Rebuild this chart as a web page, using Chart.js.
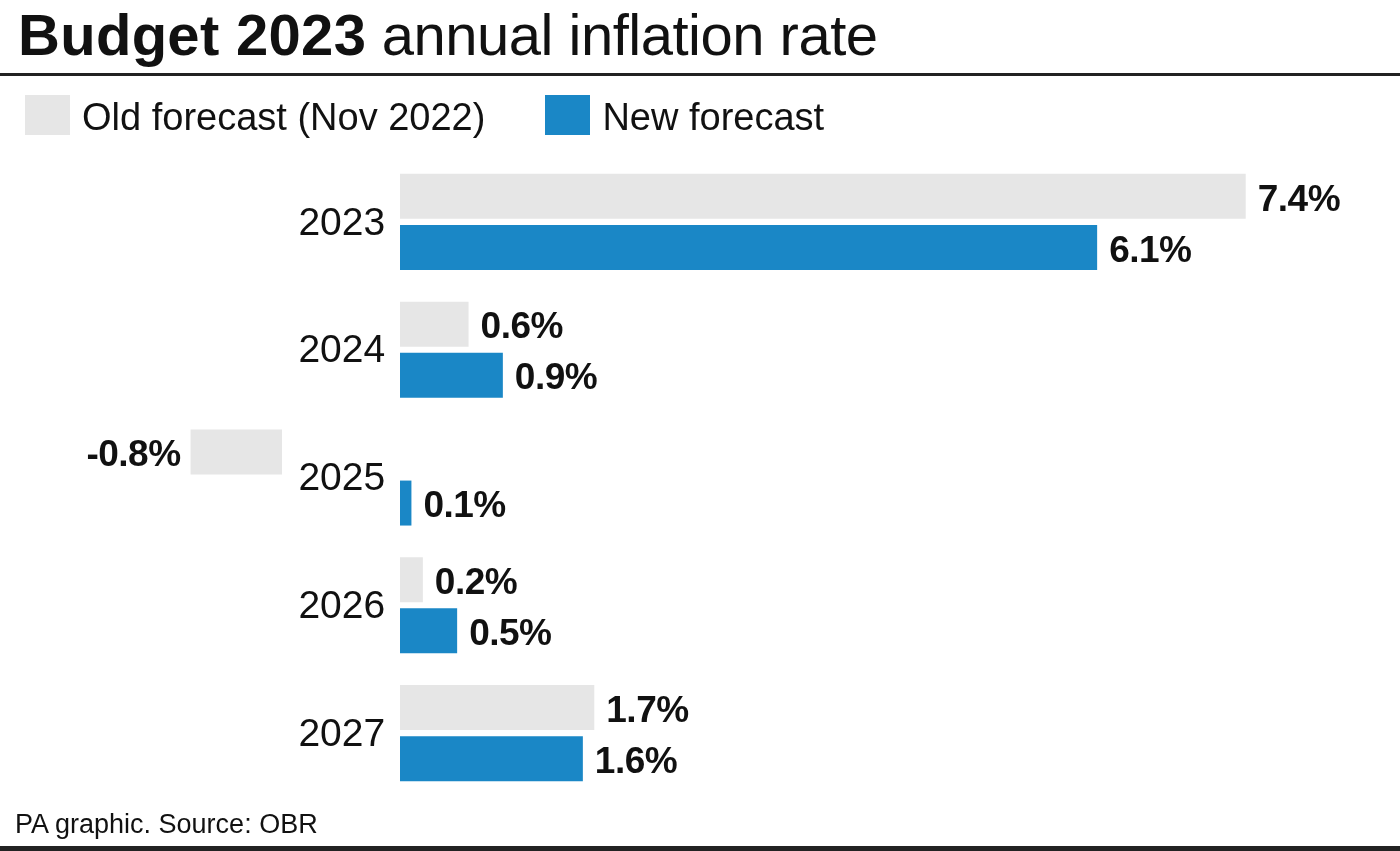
<!DOCTYPE html>
<html lang="en">
<head>
<meta charset="UTF-8">
<title>Budget 2023 annual inflation rate</title>
<script src="https://cdn.jsdelivr.net/npm/chart.js@4/dist/chart.umd.min.js"></script>
<style>
*{margin:0;padding:0;box-sizing:border-box}
body{width:1400px;height:851px;overflow:hidden;background:#fff;font-family:"Liberation Sans",Arial,sans-serif;color:#111;position:relative}
#wrap{position:absolute;left:0;top:0;width:1400px;height:851px}
.title{position:absolute;left:18px;top:3px;font-size:58px;line-height:1.117;letter-spacing:-0.5px;white-space:nowrap}
.title b{font-weight:700;letter-spacing:0.3px}
.rule{position:absolute;left:0;width:1400px;background:#222}
.legend{position:absolute;left:25px;top:95px;height:40px;display:flex;align-items:center;font-size:38px;white-space:nowrap}
.legend .item{display:flex;align-items:center;margin-right:60px}
.legend .sw{width:45px;height:40px;margin-right:12px}
.legend span{position:relative;top:2px}
.source{position:absolute;left:15px;top:809px;font-size:27px;line-height:1.117;white-space:nowrap}
</style>
</head>
<body>
<div id="wrap"><canvas id="c"></canvas></div>
<div class="title"><b>Budget 2023</b> annual inflation rate</div>
<div class="rule" style="top:73px;height:3px"></div>
<div class="legend" id="legend"></div>
<div class="source">PA graphic. Source: OBR</div>
<div class="rule" style="top:846px;height:5px"></div>
<script>
const years = ['2023', '2024', '2025', '2026', '2027'];
const oldForecast = [7.4, 0.6, -0.8, 0.2, 1.7];
const newForecast = [6.1, 0.9, 0.1, 0.5, 1.6];
const seriesNames = ['Old forecast (Nov 2022)', 'New forecast'];
const seriesColors = ['#e6e6e6', '#1a87c6'];

// legend
document.getElementById('legend').innerHTML = seriesNames.map((n, i) =>
  `<div class="item"><div class="sw" style="background:${seriesColors[i]}"></div><span>${n}</span></div>`).join('');

// negative bars sit left of the year labels in the original graphic
const NEG_SHIFT = 118;
const shiftNegative = {
  id: 'shiftNegative',
  afterDatasetsUpdate(chart) {
    chart.data.datasets.forEach((ds, di) => {
      chart.getDatasetMeta(di).data.forEach((el, i) => {
        if (ds.data[i] < 0) { el.x -= NEG_SHIFT; el.base -= NEG_SHIFT; }
      });
    });
  }
};

const valueLabels = {
  id: 'valueLabels',
  afterDatasetsDraw(chart) {
    const ctx = chart.ctx;
    ctx.save();
    ctx.font = 'bold 37px "Liberation Sans", Arial, sans-serif';
    ctx.letterSpacing = '-0.5px';
    ctx.fillStyle = '#111';
    ctx.textBaseline = 'middle';
    chart.data.datasets.forEach((ds, di) => {
      chart.getDatasetMeta(di).data.forEach((el, i) => {
        const v = ds.data[i];
        const txt = v.toFixed(1) + '%';
        if (v >= 0) { ctx.textAlign = 'left'; ctx.fillText(txt, el.x + 12, el.y + 4); }
        else { ctx.textAlign = 'right'; ctx.fillText(txt, el.x - 10, el.y + 4); }
      });
    });
    ctx.restore();
  }
};

new Chart(document.getElementById('c'), {
  type: 'bar',
  data: {
    labels: years,
    datasets: [
      { label: seriesNames[0], data: oldForecast, backgroundColor: seriesColors[0] },
      { label: seriesNames[1], data: newForecast, backgroundColor: seriesColors[1] }
    ]
  },
  options: {
    indexAxis: 'y',
    responsive: true,
    maintainAspectRatio: false,
    animation: false,
    categoryPercentage: 0.8,
    barPercentage: 0.88,
    layout: { padding: { top: 158, bottom: 54, left: 0, right: 0 } },
    plugins: { legend: { display: false }, tooltip: { enabled: false } },
    scales: {
      x: { display: false, min: -3.5, max: 8.75 },
      y: {
        position: { x: -0.13 },
        grid: { display: false, drawTicks: false },
        border: { display: false },
        ticks: { color: '#111', padding: 0, labelOffset: 2, font: { family: '"Liberation Sans", Arial, sans-serif', size: 39 } }
      }
    }
  },
  plugins: [shiftNegative, valueLabels]
});
</script>
</body>
</html>
